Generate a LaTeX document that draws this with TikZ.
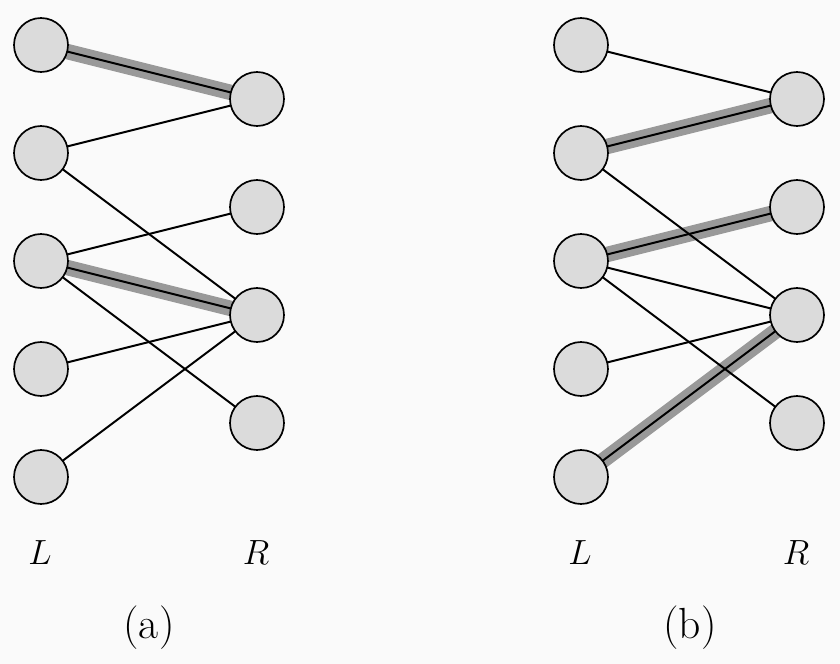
\documentclass[tikz,border=0pt]{standalone}
\usepackage{amsmath, amssymb}
\usetikzlibrary{backgrounds}

\begin{document}
\begin{tikzpicture}
[vert/.style={circle,draw=black,fill=gray!28,line width=1.2pt,minimum size=1.35cm,inner sep=0pt},
 edge/.style={line width=1.4pt,black},
 match/.style={line width=11pt,black!40},
 lab/.style={draw=none,inner sep=0pt,font=\fontsize{31}{36}\selectfont}]
\useasboundingbox (0,0) rectangle (21,-16.6);

% graph (a)
\node[vert] (al1) at (1.025,-1.125) {};
\node[vert] (al2) at (1.025,-3.825) {};
\node[vert] (al3) at (1.025,-6.525) {};
\node[vert] (al4) at (1.025,-9.225) {};
\node[vert] (al5) at (1.025,-11.925) {};
\node[vert] (ar1) at (6.425,-2.475) {};
\node[vert] (ar2) at (6.425,-5.175) {};
\node[vert] (ar3) at (6.425,-7.875) {};
\node[vert] (ar4) at (6.425,-10.575) {};

\node[lab] (aL) at (1.0,-13.825) {$L$};
\node[lab] (aR) at (6.4,-13.825) {$R$};
\node[lab] (acap) at (3.725,-15.7) {(a)};

% graph (b)
\node[vert] (bl1) at (14.525,-1.125) {};
\node[vert] (bl2) at (14.525,-3.825) {};
\node[vert] (bl3) at (14.525,-6.525) {};
\node[vert] (bl4) at (14.525,-9.225) {};
\node[vert] (bl5) at (14.525,-11.925) {};
\node[vert] (br1) at (19.925,-2.475) {};
\node[vert] (br2) at (19.925,-5.175) {};
\node[vert] (br3) at (19.925,-7.875) {};
\node[vert] (br4) at (19.925,-10.575) {};

\node[lab] (bL) at (14.5,-13.825) {$L$};
\node[lab] (bR) at (19.9,-13.825) {$R$};
\node[lab] (bcap) at (17.25,-15.7) {(b)};

\begin{scope}[on background layer]
\fill[gray!4] (0,0) rectangle (21,-16.6);
% matchings
\draw[match] (al1.center) -- (ar1.center);
\draw[match] (al3.center) -- (ar3.center);
\draw[match] (bl2.center) -- (br1.center);
\draw[match] (bl3.center) -- (br2.center);
\draw[match] (bl5.center) -- (br3.center);
% edges of (a)
\draw[edge] (al1.center) -- (ar1.center);
\draw[edge] (al2.center) -- (ar1.center);
\draw[edge] (al2.center) -- (ar3.center);
\draw[edge] (al3.center) -- (ar2.center);
\draw[edge] (al3.center) -- (ar3.center);
\draw[edge] (al3.center) -- (ar4.center);
\draw[edge] (al4.center) -- (ar3.center);
\draw[edge] (al5.center) -- (ar3.center);
% edges of (b)
\draw[edge] (bl1.center) -- (br1.center);
\draw[edge] (bl2.center) -- (br1.center);
\draw[edge] (bl2.center) -- (br3.center);
\draw[edge] (bl3.center) -- (br2.center);
\draw[edge] (bl3.center) -- (br3.center);
\draw[edge] (bl3.center) -- (br4.center);
\draw[edge] (bl4.center) -- (br3.center);
\draw[edge] (bl5.center) -- (br3.center);
\end{scope}

\end{tikzpicture}
\end{document}
